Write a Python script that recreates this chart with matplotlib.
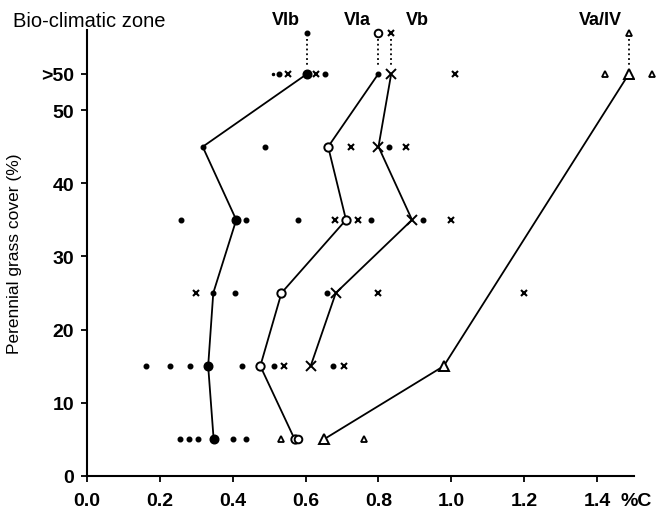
import numpy as np
import matplotlib.pyplot as plt

plt.rcParams['font.family'] = ['Liberation Sans', 'DejaVu Sans']

# grass-cover classes (the top class ">50" sits at 55 on the axis)
cover = [55, 45, 35, 25, 15, 5]

# mean %C per bio-climatic zone along each class
vib_mean = [0.605, 0.318, 0.41, 0.347, 0.333, 0.348]
via_mean = [0.80, 0.662, 0.711, 0.534, 0.476, 0.57]
vb_mean = [0.835, 0.80, 0.892, 0.683, 0.614]
vb_cover = [55, 45, 35, 25, 15]
va_mean = [1.487, 0.979, 0.651]
va_cover = [55, 15, 5]

# individual sites
dot_c = [0.528, 0.653, 0.488, 0.83, 0.258, 0.437, 0.579, 0.779, 0.922,
         0.407, 0.659, 0.163, 0.229, 0.283, 0.426, 0.513, 0.676,
         0.255, 0.281, 0.304, 0.402, 0.437]
dot_y = [55, 55, 45, 45, 35, 35, 35, 35, 35,
         25, 25, 15, 15, 15, 15, 15, 15,
         5, 5, 5, 5, 5]
cross_c = [0.553, 0.63, 1.01, 0.726, 0.876, 0.68, 0.743, 1.0,
           0.301, 0.80, 1.2, 0.541, 0.705]
cross_y = [55, 55, 55, 45, 45, 35, 35, 35,
           25, 25, 25, 15, 15]
tri_c = [1.42, 1.55, 0.534, 0.76]
tri_y = [55, 55, 5, 5]
circ_c = [0.58]
circ_y = [5]

zones = ['VIb', 'VIa', 'Vb', 'Va/IV']
zone_c = [0.605, 0.80, 0.835, 1.487]

fig = plt.figure(figsize=(6.56, 5.10), dpi=100)
ax = fig.add_axes([0.1322, 0.0653, 0.8339, 0.8743])

k = dict(color='black', lw=1.3, zorder=2)
ax.plot(vib_mean, cover, **k)
ax.plot(via_mean, cover, **k)
ax.plot(vb_mean, vb_cover, **k)
ax.plot(va_mean, va_cover, **k)

# means
big = [0, 2, 4, 5]
ax.plot(np.array(vib_mean)[big], np.array(cover)[big], 'o', ms=6.2, color='black', zorder=3)
ax.plot(np.array(vib_mean)[[1, 3]], np.array(cover)[[1, 3]], 'o', ms=3.3, color='black', zorder=3)
ax.plot(via_mean[1:], cover[1:], 'o', ms=6, mfc='white', mec='black', mew=1.4, zorder=3)
ax.plot(via_mean[:1], cover[:1], 'o', ms=3.3, color='black', zorder=3)
ax.plot(vb_mean, vb_cover, 'x', ms=7.5, mew=1.4, color='black', zorder=3)
ax.plot(va_mean, va_cover, '^', ms=7.5, mfc='white', mec='black', mew=1.4, zorder=3)

# sites
ax.plot(dot_c, dot_y, 'o', ms=3.3, color='black', zorder=3)
ax.plot([0.512], [55], 'o', ms=1.5, color='black', zorder=3)
ax.plot(cross_c, cross_y, 'x', ms=3.8, mew=1.5, color='black', zorder=3)
ax.plot(tri_c, tri_y, '^', ms=4.8, mfc='white', mec='black', mew=1.3, zorder=3, clip_on=False)
ax.plot(circ_c, circ_y, 'o', ms=5.5, mfc='white', mec='black', mew=1.4, zorder=3)

# zone labels with their symbols, dotted down to the >50 class
top = 60.5
ax.plot([zone_c[0]], [top], 'o', ms=3.3, color='black', clip_on=False)
ax.plot([zone_c[1]], [top], 'o', ms=5.5, mfc='white', mec='black', mew=1.4, clip_on=False)
ax.plot([zone_c[2]], [top], 'x', ms=3.8, mew=1.5, color='black', clip_on=False)
ax.plot([zone_c[3]], [top], '^', ms=4.8, mfc='white', mec='black', mew=1.3, clip_on=False)
for c in zone_c:
    ax.plot([c, c], [top - 0.8, 56], ls=':', lw=1.3, color='black', clip_on=False)

lab = dict(fontsize=13, fontweight='bold', va='bottom', clip_on=False)
ax.text(zone_c[0] - 0.02, 61.2, zones[0], ha='right', **lab)
ax.text(zone_c[1] - 0.02, 61.2, zones[1], ha='right', **lab)
ax.text(zone_c[2] + 0.04, 61.2, zones[2], ha='left', **lab)
ax.text(zone_c[3] - 0.02, 61.2, zones[3], ha='right', **lab)
fig.text(0.02, 0.957, 'Bio-climatic zone', fontsize=14.5, va='center', ha='left')

ax.set_xlim(0, 1.5)
ax.set_ylim(0, 61)
ax.set_xticks([0, 0.2, 0.4, 0.6, 0.8, 1.0, 1.2, 1.4])
ax.set_xticklabels(['0.0', '0.2', '0.4', '0.6', '0.8', '1.0', '1.2', '1.4'],
                   fontsize=14, fontweight='bold')
ax.set_yticks([0, 10, 20, 30, 40, 50, 55])
ax.set_yticklabels(['0', '10', '20', '30', '40', '50', '>50'], fontsize=14, fontweight='bold')
ax.tick_params(direction='out', length=4, width=1.3)
ax.tick_params(axis='x', pad=8)
ax.tick_params(axis='y', pad=5)
ax.spines['top'].set_visible(False)
ax.spines['right'].set_visible(False)
ax.spines['left'].set_linewidth(1.5)
ax.spines['bottom'].set_linewidth(1.5)
ax.set_ylabel('Perennial grass cover (%)', fontsize=12.5, labelpad=4)
ax.yaxis.set_label_coords(-0.118, 0.5)
ax.text(1.465, -0.036, '%C', transform=ax.get_xaxis_transform(), fontsize=14,
        fontweight='bold', va='top', ha='left')

fig.savefig('out.png', dpi=100)
